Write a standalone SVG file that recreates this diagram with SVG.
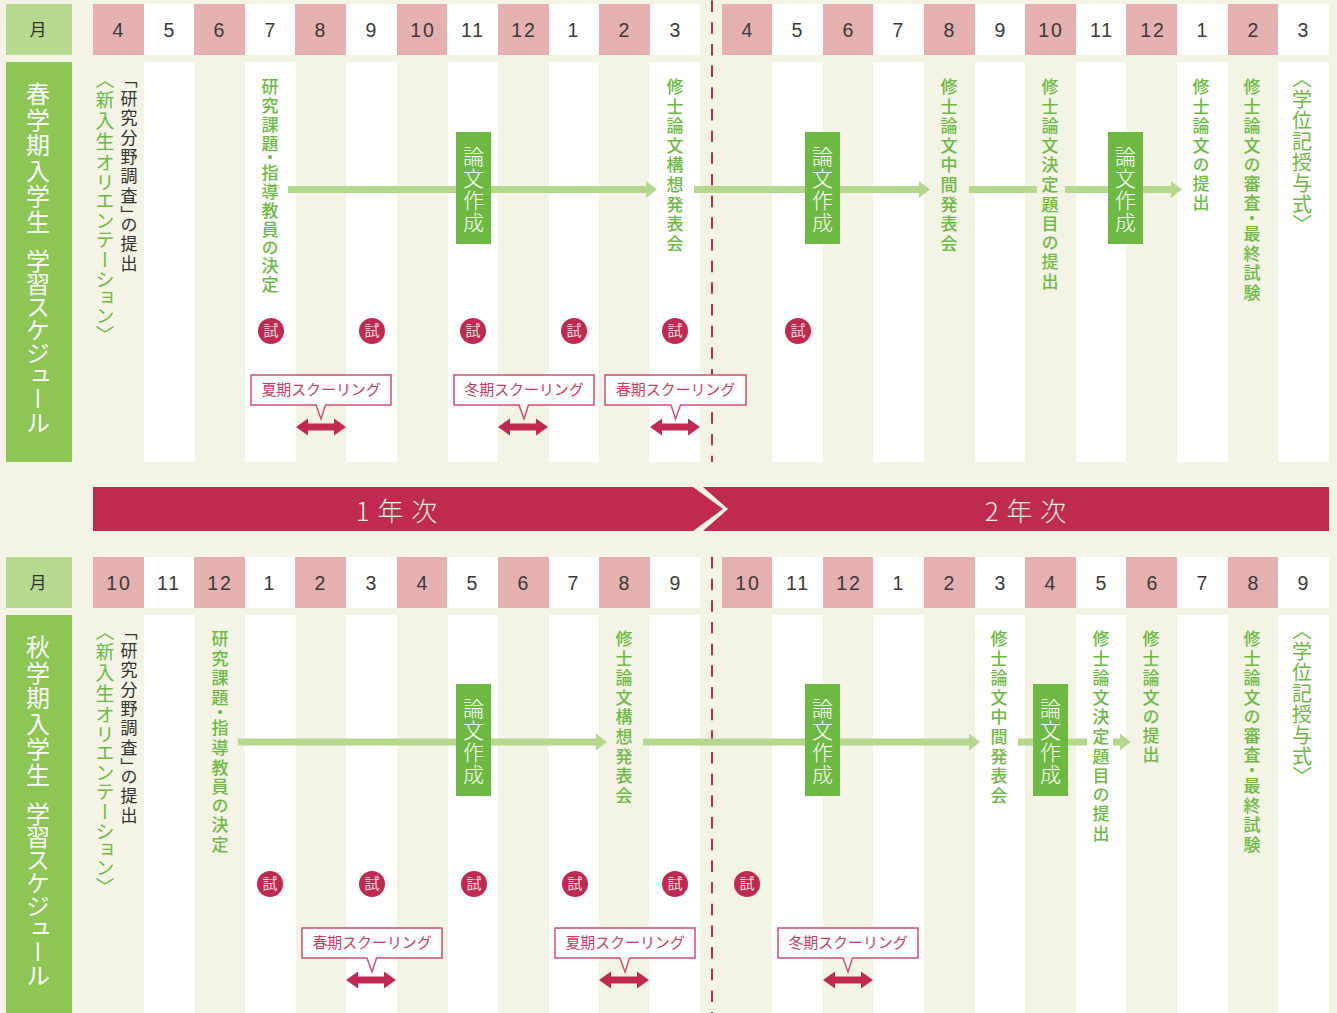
<svg xmlns="http://www.w3.org/2000/svg" width="1337" height="1013" viewBox="0 0 1337 1013">
<defs>
<style>
text{font-family:"Noto Sans CJK JP","Noto Sans",sans-serif}
.h{fill:#e4b0b0}.w{fill:#fff}
.m{font-family:"Liberation Sans","Noto Sans CJK JP",sans-serif;font-size:19.500px;fill:#3a3a3a;text-anchor:middle;letter-spacing:2px}
.v{writing-mode:vertical-rl;font-size:17px;letter-spacing:2.600px;fill:#6eb944;font-weight:500;font-feature-settings:"vpal"}
.t{letter-spacing:1.900px}
.o{writing-mode:vertical-rl;font-size:19px;letter-spacing:2px;fill:#6eb944;font-feature-settings:"vpal"}
.k{writing-mode:vertical-rl;font-size:17px;letter-spacing:2.400px;fill:#333;font-feature-settings:"vpal"}
.g{writing-mode:vertical-rl;font-size:20px;letter-spacing:1px;fill:#6eb944;font-feature-settings:"vpal"}
.b{writing-mode:vertical-rl;font-size:21px;letter-spacing:.8px;fill:#fff;font-weight:300}
.s{writing-mode:vertical-rl;font-size:24px;fill:#fff}
.c{fill:#c02a50}
.ct{font-size:15px;fill:#f3dbe0;text-anchor:middle}
.cb{fill:#fff;stroke:#cf4f70;stroke-width:1.500}
.cl{font-size:15px;letter-spacing:-.1px;fill:#c8405f;text-anchor:middle}
.bar{fill:#b5d88e}
.box{fill:#6eb944}
.yr{font-size:26px;letter-spacing:1px;fill:#f3f3e6;text-anchor:middle;font-weight:300}
.dash{stroke:#c02a50;stroke-width:2;stroke-dasharray:11.500 10.170;fill:none}
</style>
<path id="darrow" d="M0 0L12-8.500V-3.500H38V-8.500L50 0L38 8.500V3.500H12V8.500Z" fill="#c02a50"/>
</defs>
<rect width="1337" height="1013" fill="#f3f3e6"/>
<g id="columns">
<rect class="w" x="144" y="62" width="51" height="400"/><rect class="w" x="245" y="62" width="51" height="400"/><rect class="w" x="346" y="62" width="51" height="400"/><rect class="w" x="448" y="62" width="50" height="400"/><rect class="w" x="549" y="62" width="50" height="400"/><rect class="w" x="649" y="62" width="51" height="400"/><rect class="w" x="772" y="62" width="51" height="400"/><rect class="w" x="873" y="62" width="51" height="400"/><rect class="w" x="975" y="62" width="50" height="400"/><rect class="w" x="1076" y="62" width="50" height="400"/><rect class="w" x="1177" y="62" width="51" height="400"/><rect class="w" x="1278" y="62" width="51" height="400"/>
<rect class="w" x="144" y="615" width="51" height="398"/><rect class="w" x="245" y="615" width="51" height="398"/><rect class="w" x="346" y="615" width="51" height="398"/><rect class="w" x="448" y="615" width="50" height="398"/><rect class="w" x="549" y="615" width="50" height="398"/><rect class="w" x="649" y="615" width="51" height="398"/><rect class="w" x="772" y="615" width="51" height="398"/><rect class="w" x="873" y="615" width="51" height="398"/><rect class="w" x="975" y="615" width="50" height="398"/><rect class="w" x="1076" y="615" width="50" height="398"/><rect class="w" x="1177" y="615" width="51" height="398"/><rect class="w" x="1278" y="615" width="51" height="398"/>
</g>
<g id="month-header-spring">
<rect x="6" y="4" width="66" height="51" fill="#b7d88f"/><text x="38" y="36" font-size="17" fill="#333" text-anchor="middle">月</text>
<rect class="h" x="93" y="4" width="51" height="51"/><rect class="w" x="144" y="4" width="50" height="51"/><rect class="h" x="194" y="4" width="51" height="51"/><rect class="w" x="245" y="4" width="50" height="51"/><rect class="h" x="295" y="4" width="51" height="51"/><rect class="w" x="346" y="4" width="51" height="51"/><rect class="h" x="397" y="4" width="50" height="51"/><rect class="w" x="447" y="4" width="51" height="51"/><rect class="h" x="498" y="4" width="51" height="51"/><rect class="w" x="549" y="4" width="50" height="51"/><rect class="h" x="599" y="4" width="51" height="51"/><rect class="w" x="650" y="4" width="50" height="51"/>
<rect class="h" x="722" y="4" width="50" height="51"/><rect class="w" x="772" y="4" width="51" height="51"/><rect class="h" x="823" y="4" width="50" height="51"/><rect class="w" x="873" y="4" width="51" height="51"/><rect class="h" x="924" y="4" width="51" height="51"/><rect class="w" x="975" y="4" width="50" height="51"/><rect class="h" x="1025" y="4" width="51" height="51"/><rect class="w" x="1076" y="4" width="50" height="51"/><rect class="h" x="1126" y="4" width="51" height="51"/><rect class="w" x="1177" y="4" width="51" height="51"/><rect class="h" x="1228" y="4" width="50" height="51"/><rect class="w" x="1278" y="4" width="51" height="51"/>
<text class="m" x="119" y="37">4</text><text class="m" x="170" y="37">5</text><text class="m" x="220" y="37">6</text><text class="m" x="271" y="37">7</text><text class="m" x="321" y="37">8</text><text class="m" x="372" y="37">9</text><text class="m" x="423" y="37">10</text><text class="m" x="473" y="37">11</text><text class="m" x="524" y="37">12</text><text class="m" x="574" y="37">1</text><text class="m" x="625" y="37">2</text><text class="m" x="676" y="37">3</text>
<text class="m" x="748" y="37">4</text><text class="m" x="798" y="37">5</text><text class="m" x="849" y="37">6</text><text class="m" x="899" y="37">7</text><text class="m" x="950" y="37">8</text><text class="m" x="1001" y="37">9</text><text class="m" x="1051" y="37">10</text><text class="m" x="1102" y="37">11</text><text class="m" x="1153" y="37">12</text><text class="m" x="1203" y="37">1</text><text class="m" x="1254" y="37">2</text><text class="m" x="1304" y="37">3</text>
</g>
<g id="month-header-autumn">
<rect x="6" y="557" width="66" height="51" fill="#b7d88f"/><text x="38" y="589" font-size="17" fill="#333" text-anchor="middle">月</text>
<rect class="h" x="93" y="557" width="51" height="51"/><rect class="w" x="144" y="557" width="50" height="51"/><rect class="h" x="194" y="557" width="51" height="51"/><rect class="w" x="245" y="557" width="50" height="51"/><rect class="h" x="295" y="557" width="51" height="51"/><rect class="w" x="346" y="557" width="51" height="51"/><rect class="h" x="397" y="557" width="50" height="51"/><rect class="w" x="447" y="557" width="51" height="51"/><rect class="h" x="498" y="557" width="51" height="51"/><rect class="w" x="549" y="557" width="50" height="51"/><rect class="h" x="599" y="557" width="51" height="51"/><rect class="w" x="650" y="557" width="50" height="51"/>
<rect class="h" x="722" y="557" width="50" height="51"/><rect class="w" x="772" y="557" width="51" height="51"/><rect class="h" x="823" y="557" width="50" height="51"/><rect class="w" x="873" y="557" width="51" height="51"/><rect class="h" x="924" y="557" width="51" height="51"/><rect class="w" x="975" y="557" width="50" height="51"/><rect class="h" x="1025" y="557" width="51" height="51"/><rect class="w" x="1076" y="557" width="50" height="51"/><rect class="h" x="1126" y="557" width="51" height="51"/><rect class="w" x="1177" y="557" width="51" height="51"/><rect class="h" x="1228" y="557" width="50" height="51"/><rect class="w" x="1278" y="557" width="51" height="51"/>
<text class="m" x="119" y="590">10</text><text class="m" x="169" y="590">11</text><text class="m" x="220" y="590">12</text><text class="m" x="270" y="590">1</text><text class="m" x="321" y="590">2</text><text class="m" x="372" y="590">3</text><text class="m" x="423" y="590">4</text><text class="m" x="473" y="590">5</text><text class="m" x="524" y="590">6</text><text class="m" x="574" y="590">7</text><text class="m" x="625" y="590">8</text><text class="m" x="676" y="590">9</text>
<text class="m" x="748" y="590">10</text><text class="m" x="798" y="590">11</text><text class="m" x="849" y="590">12</text><text class="m" x="899" y="590">1</text><text class="m" x="950" y="590">2</text><text class="m" x="1001" y="590">3</text><text class="m" x="1051" y="590">4</text><text class="m" x="1102" y="590">5</text><text class="m" x="1153" y="590">6</text><text class="m" x="1203" y="590">7</text><text class="m" x="1254" y="590">8</text><text class="m" x="1304" y="590">9</text>
</g>
<g id="connectors">
<path class="dash" d="M712 .6V462"/><path class="dash" d="M712 557V1013"/>
<path class="bar" d="M288 186H646V181L657 189.500L646 198V193H288Z"/>
<path class="bar" d="M694 186H919V181L930 189.500L919 198V193H694Z"/>
<rect class="bar" x="969" y="186" width="68" height="7"/>
<path class="bar" d="M1065 186H1171V181L1182 189.500L1171 198V193H1065Z"/>
<path class="bar" d="M238 738.500H596V733.500L607 742L596 750.500V745.500H238Z"/>
<path class="bar" d="M643 738.500H969V733.500L980 742L969 750.500V745.500H643Z"/>
<rect class="bar" x="1018" y="738.500" width="69" height="7"/>
<path class="bar" d="M1113 738.500H1120V733.500L1131 742L1120 750.500V745.500H1113Z"/>
</g>
<g id="banner">
<rect x="93" y="487" width="1236" height="44" class="c"/>
<path d="M693 487H703L728 509L703 531H693L723 509Z" fill="#f3f3e6"/>
<text class="yr" x="397" y="521">1 年 次</text>
<text class="yr" x="1026" y="521">2 年 次</text>
</g>
<g id="label-spring"><rect x="6" y="62" width="66" height="400" fill="#8ec655"/>
<text class="s" x="38" y="82" letter-spacing="1.500">春学期入学生</text>
<text class="s" x="38" y="249" letter-spacing="-1">学習スケジュール</text></g>
<g id="label-autumn"><rect x="6" y="615" width="66" height="398" fill="#8ec655"/>
<text class="s" x="38" y="635" letter-spacing="1.500">秋学期入学生</text>
<text class="s" x="38" y="802" letter-spacing="-1">学習スケジュール</text></g>
<g id="spring-orientation"><text class="o" x="105" y="79">〈新入生オリエンテーション〉</text></g>
<g id="spring-submit"><text class="k" x="129" y="79">「研究分野調査」の提出</text></g>
<g id="spring-topic"><text class="v t" x="270" y="78">研究課題・指導教員の決定</text></g>
<g id="spring-plan"><text class="v" x="675" y="78">修士論文構想発表会</text></g>
<g id="spring-mid"><text class="v" x="949" y="78">修士論文中間発表会</text></g>
<g id="spring-title"><text class="v" x="1050" y="78">修士論文決定題目の提出</text></g>
<g id="spring-thesis"><text class="v" x="1201" y="78">修士論文の提出</text></g>
<g id="spring-exam"><text class="v" x="1252" y="78">修士論文の審査・最終試験</text></g>
<g id="spring-degree"><text class="g" x="1302" y="78">〈学位記授与式〉</text></g>
<g id="autumn-orientation"><text class="o" x="105" y="631">〈新入生オリエンテーション〉</text></g>
<g id="autumn-submit"><text class="k" x="129" y="631">「研究分野調査」の提出</text></g>
<g id="autumn-topic"><text class="v" x="220" y="630">研究課題・指導教員の決定</text></g>
<g id="autumn-plan"><text class="v" x="624" y="630">修士論文構想発表会</text></g>
<g id="autumn-mid"><text class="v" x="999" y="630">修士論文中間発表会</text></g>
<g id="autumn-title"><text class="v" x="1101" y="630">修士論文決定題目の提出</text></g>
<g id="autumn-thesis"><text class="v" x="1151" y="630">修士論文の提出</text></g>
<g id="autumn-exam"><text class="v" x="1252" y="630">修士論文の審査・最終試験</text></g>
<g id="autumn-degree"><text class="g" x="1302" y="630">〈学位記授与式〉</text></g>
<g id="draft-s1"><rect class="box" x="456" y="132" width="35" height="112"/><text class="b" x="473.500" y="146">論文作成</text></g>
<g id="draft-s2"><rect class="box" x="805" y="132" width="35" height="112"/><text class="b" x="822.500" y="146">論文作成</text></g>
<g id="draft-s3"><rect class="box" x="1108" y="132" width="35" height="112"/><text class="b" x="1125.500" y="146">論文作成</text></g>
<g id="draft-a1"><rect class="box" x="456" y="684" width="35" height="112"/><text class="b" x="473.500" y="698">論文作成</text></g>
<g id="draft-a2"><rect class="box" x="805" y="684" width="35" height="112"/><text class="b" x="822.500" y="698">論文作成</text></g>
<g id="draft-a3"><rect class="box" x="1033" y="684" width="35" height="112"/><text class="b" x="1050.500" y="698">論文作成</text></g>
<g id="exams">
<circle class="c" cx="271" cy="331" r="13"/><text class="ct" x="271" y="336">試</text>
<circle class="c" cx="372" cy="331" r="13"/><text class="ct" x="372" y="336">試</text>
<circle class="c" cx="473" cy="331" r="13"/><text class="ct" x="473" y="336">試</text>
<circle class="c" cx="574" cy="331" r="13"/><text class="ct" x="574" y="336">試</text>
<circle class="c" cx="675" cy="331" r="13"/><text class="ct" x="675" y="336">試</text>
<circle class="c" cx="798" cy="331" r="13"/><text class="ct" x="798" y="336">試</text>
<circle class="c" cx="270" cy="884" r="13"/><text class="ct" x="270" y="889">試</text>
<circle class="c" cx="372" cy="884" r="13"/><text class="ct" x="372" y="889">試</text>
<circle class="c" cx="474" cy="884" r="13"/><text class="ct" x="474" y="889">試</text>
<circle class="c" cx="575" cy="884" r="13"/><text class="ct" x="575" y="889">試</text>
<circle class="c" cx="675" cy="884" r="13"/><text class="ct" x="675" y="889">試</text>
<circle class="c" cx="747" cy="884" r="13"/><text class="ct" x="747" y="889">試</text>
</g>
<g id="school-s1"><path class="cb" d="M251 375H391V405H325.500L321 419L316 405H251Z"/><text class="cl" x="321" y="395">夏期スクーリング</text><use href="#darrow" x="296" y="427"/></g>
<g id="school-s2"><path class="cb" d="M454 375H594V405H528.500L524 419L519 405H454Z"/><text class="cl" x="524" y="395">冬期スクーリング</text><use href="#darrow" x="498" y="427"/></g>
<g id="school-s3"><path class="cb" d="M605 375H746V405H680.500L675.500 419L671 405H605Z"/><text class="cl" x="675.500" y="395">春期スクーリング</text><use href="#darrow" x="650" y="427"/></g>
<g id="school-a1"><path class="cb" d="M302 928H442V958H376.500L372 972L367 958H302Z"/><text class="cl" x="372" y="948">春期スクーリング</text><use href="#darrow" x="346" y="980"/></g>
<g id="school-a2"><path class="cb" d="M555 928H695V958H629.500L625 972L620 958H555Z"/><text class="cl" x="625" y="948">夏期スクーリング</text><use href="#darrow" x="599" y="980"/></g>
<g id="school-a3"><path class="cb" d="M778 928H918V958H852.500L848 972L843 958H778Z"/><text class="cl" x="848" y="948">冬期スクーリング</text><use href="#darrow" x="823" y="980"/></g>
</svg>
